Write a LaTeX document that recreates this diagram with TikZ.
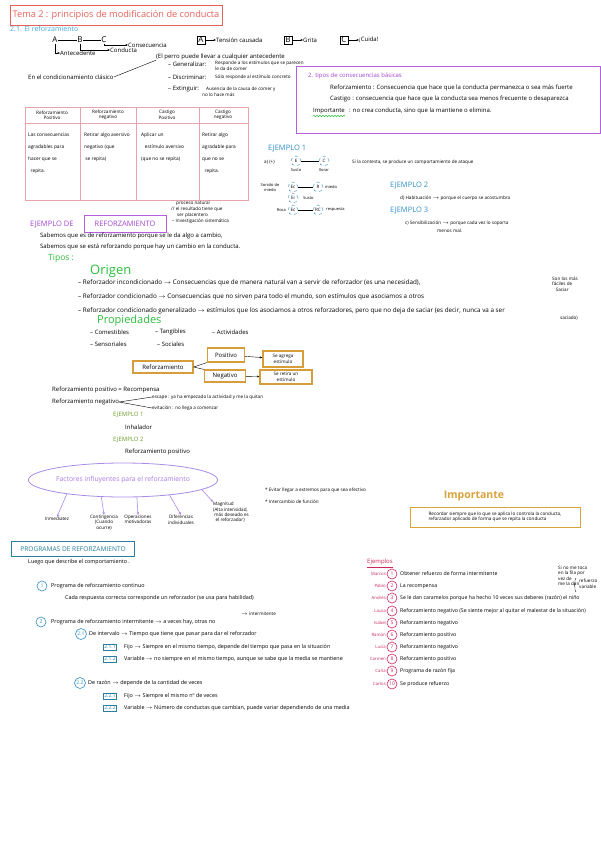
\documentclass[tikz,border=0pt]{standalone}
\usepackage{fontspec}
\setmainfont{Open Sans}
\usetikzlibrary{arrows.meta,shapes.geometric,decorations.pathmorphing,decorations.pathreplacing}
\definecolor{titlered}{HTML}{E8625A}
\definecolor{skyblue}{HTML}{3DA9E0}
\definecolor{violetbox}{HTML}{B35FE0}
\definecolor{violettxt}{HTML}{A346D0}
\definecolor{pinkline}{HTML}{E9A3AA}
\definecolor{exblue}{HTML}{2F8FC7}
\definecolor{brightgreen}{HTML}{2DBE3C}
\definecolor{olive}{HTML}{6E9E2E}
\definecolor{gold}{HTML}{D9A23A}
\definecolor{lavender}{HTML}{A98BE8}
\definecolor{teal}{HTML}{2A7E9E}
\definecolor{crimson}{HTML}{C8285A}
\newcommand\myfs{\fontsize{6}{7}\selectfont}
\newcommand\mysm{\fontsize{4.6}{5.4}\selectfont}
\newcommand\myprog{\fontsize{5.4}{6.4}\selectfont}
\begin{document}
\begin{tikzpicture}[x=1pt,y=-1pt,
  txt/.style={anchor=west,inner sep=0pt,font=\myfs},
  sm/.style={anchor=west,inner sep=0pt,font=\mysm},
  ptxt/.style={anchor=west,inner sep=0pt,font=\myprog},
  otxt/.style={anchor=west,inner sep=0pt,font=\fontsize{6.3}{7.3}\selectfont},
  abc/.style={inner sep=0.5pt,font=\fontsize{8}{9}\selectfont},
  letbox/.style={draw,inner sep=1.2pt,font=\fontsize{8}{9}\selectfont},
  arr/.style={-{Stealth[length=2.5pt,width=2pt]},line width=0.4pt},
  ecirc/.style={circle,draw=exblue,dashed,inner sep=0.5pt,minimum size=10pt,font=\fontsize{4.5}{5}\selectfont},
  exhead/.style={anchor=west,inner sep=0pt,text=exblue,font=\fontsize{7.5}{8.5}\selectfont},
  goldbox/.style={draw=gold!85!brown,line width=1.2pt,inner sep=1pt,font=\myfs,align=center},
  lavarrow/.style={-{Stealth[length=3pt,width=2.5pt]},draw=lavender,line width=0.6pt},
  ncirc/.style={circle,draw=exblue,line width=0.6pt,inner sep=0.4pt,minimum size=10pt,text=exblue,font=\fontsize{5}{6}\selectfont},
  nbox/.style={draw=teal,line width=0.7pt,inner sep=1pt,text=teal,font=\fontsize{5}{6}\selectfont},
  mcirc/.style={circle,draw=crimson,line width=0.6pt,inner sep=0.3pt,minimum size=10pt,text=crimson,font=\fontsize{5}{6}\selectfont}
]
\useasboundingbox[fill=white] (0,0) rectangle (601,848);

% ---------- title ----------
\node[draw=titlered,line width=0.9pt,minimum width=212pt,minimum height=20pt,inner sep=0pt,text=titlered,font=\fontsize{9.2}{11}\selectfont] (title) at (116,15) {Tema 2 : principios de modificación de conducta};
\node[anchor=west,inner sep=0pt,text=skyblue,font=\fontsize{7}{8}\selectfont] (sec21) at (10,29) {2.1. El reforzamiento};

% ---------- A B C ----------
\node[abc] (nA) at (55,40) {A};
\node[abc] (nB) at (80,40) {B};
\node[abc] (nC) at (104,40) {C};
\draw[line width=0.5pt] (nA) -- (nB);
\draw[line width=0.5pt] (nB) -- (nC);
\node[txt] (cons) at (128,45) {Consecuencia};
\node[txt] (cond) at (110,50) {Conducta};
\node[txt] (ante) at (60,53) {Antecedente};
\draw[arr] (nC.south) |- (cons.west);
\draw[arr] (nB.south) |- (cond.west);
\draw[arr] (nA.south) |- (ante.west);

\node[letbox] (bA) at (201,40) {A};
\node[txt] (tA) at (216,40) {Tensión causada};
\draw[arr] (bA) -- (tA);
\node[letbox] (bB) at (288,40) {B};
\node[txt] (tB) at (303,40) {Grita};
\draw[arr] (bB) -- (tB);
\node[letbox] (bC) at (344,40) {C};
\node[txt] (tC) at (359,40) {¡Cuida!};
\draw[arr] (bC) -- (tC);

% ---------- condicionamiento clasico ----------
\node[txt] (clas) at (28,77) {En el condicionamiento clásico};
\node[txt] (perro) at (156,57) {(El perro puede llevar a cualquier antecedente};
\draw[line width=0.4pt] (clas.east) -- (perro.south west);
\node[txt] (gen) at (168,64) {– Generalizar:};
\node[sm] (gen2) at (215,63) {Responde a los estímulos que se parecen};
\node[sm] (gen3) at (215,69) {le da de comer};
\node[txt] (dis) at (168,77) {– Discriminar:};
\node[sm] (dis2) at (215,77) {Sólo responde al estímulo concreto};
\node[txt] (ext) at (168,89) {– Extinguir:};
\node[sm] (ext2) at (206,89) {Ausencia de la causa de comer y};
\node[sm] (ext3) at (202,95) {no lo hace más};

% ---------- tipos de consecuencias (purple box) ----------
\node[draw=violetbox,line width=0.8pt,minimum width=304pt,minimum height=67pt,anchor=north west,inner sep=0pt] (tbox) at (296,66) {};
\node[txt,text=violettxt] (t2) at (308,76) {2. tipos de consecuencias básicas};
\node[txt] (t2a) at (330,88) {Reforzamiento : Consecuencia que hace que la conducta permanezca o sea más fuerte};
\node[txt] (t2b) at (330,99) {Castigo : consecuencia que hace que la conducta sea menos frecuente o desaparezca};
\node[txt] (imp2) at (313,111) {Importante};
\node[txt] (imp2b) at (349,111) {: no crea conducta, sino que la mantiene o elimina.};
\draw[brightgreen,line width=0.5pt,decorate,decoration={snake,amplitude=0.8pt,segment length=3pt}] ([yshift=-2pt]imp2.south west) -- ([yshift=-2pt]imp2.south east);

% ---------- table ----------
\draw[pinkline,line width=0.7pt] (25,107) rectangle (248,200);
\draw[pinkline,line width=0.7pt] (25,123) -- (248,123);
\draw[pinkline,line width=0.7pt] (80,107) -- (80,200);
\draw[pinkline,line width=0.7pt] (136,107) -- (136,200);
\draw[pinkline,line width=0.7pt] (199,107) -- (199,200);
\node[font=\mysm,align=center,inner sep=0pt] (h1) at (52,115) {Reforzamiento\\Positivo};
\node[font=\mysm,align=center,inner sep=0pt] (h2) at (108,115) {Reforzamiento\\negativo};
\node[font=\mysm,align=center,inner sep=0pt] (h3) at (167,115) {Castigo\\Positivo};
\node[font=\mysm,align=center,inner sep=0pt] (h4) at (223,115) {Castigo\\negativo};
\node[sm,anchor=north west,align=left,font=\fontsize{4.8}{12}\selectfont] (b1) at (28,133) {Las consecuencias\\agradables para\\hacer que se\\\ \ repita.};
\node[sm,anchor=north west,align=left,font=\fontsize{4.8}{12}\selectfont] (b2) at (84,133) {Retirar algo aversivo\\negativo (que\\\ se repita)};
\node[sm,anchor=north west,align=left,font=\fontsize{4.8}{12}\selectfont] (b3) at (141,133) {Aplicar un\\\ \ \ estímulo aversivo\\(que no se repita)};
\node[sm,anchor=north west,align=left,font=\fontsize{4.8}{12}\selectfont] (b4) at (202,133) {Retirar algo\\agradable para\\que no se\\\ \ repita.};

% ---------- Ejemplo 1 ----------
\node[exhead] (ej1h) at (268,148) {EJEMPLO 1};
\node[sm] (ej1a) at (264,162) {a) (+)};
\node[ecirc] (e1E) at (296,161) {E};
\node[ecirc] (e1C) at (324,161) {C};
\draw[line width=0.4pt] (e1E) -- (e1C);
\node[font=\fontsize{4}{5}\selectfont,inner sep=0pt] (e1s) at (296,170) {Susto};
\node[font=\fontsize{4}{5}\selectfont,inner sep=0pt] (e1l) at (324,170) {llorar};
\node[sm] (e1t) at (352,162) {Si la contesta, se produce un comportamiento de ataque};

\node[font=\fontsize{4}{5}\selectfont,inner sep=0pt,align=center] (son) at (270,187) {Sonido de\\miedo};
\node[ecirc] (g2E) at (293,187) {Ec};
\node[ecirc] (g2R) at (318,187) {R};
\draw[line width=0.4pt] (g2E) -- (g2R);
\node[font=\fontsize{4}{5}\selectfont,inner sep=0pt,anchor=west] (g2t) at (325,187) {miedo};
\node[ecirc] (g2Ei) at (293,198) {Ei};
\node[font=\fontsize{4}{5}\selectfont,inner sep=0pt,anchor=west] (g2s) at (303,198) {Susto};
\node[font=\fontsize{4}{5}\selectfont,inner sep=0pt,anchor=east] (rosa) at (286,210) {Rosa};
\node[ecirc] (g3E) at (293,210) {Ec};
\node[ecirc] (g3R) at (318,210) {RC};
\draw[line width=0.4pt] (g3E) -- (g3R);
\node[font=\fontsize{4}{5}\selectfont,inner sep=0pt,anchor=west] (g3t) at (326,210) {respuesta};

\node[exhead] (ej2h) at (390,185) {EJEMPLO 2};
\node[sm] (ej2t) at (400,198) {d) Habituación $\rightarrow$ porque el cuerpo se acostumbra};
\node[exhead] (ej3h) at (390,210) {EJEMPLO 3};
\node[sm] (ej3t) at (405,223) {c) Sensibilización $\rightarrow$ porque cada vez lo soporta};
\node[sm] (ej3t2) at (437,231) {menos mal.};

% ---------- ejemplo de reforzamiento ----------
\node[sm] (pn1) at (176,203) {proceso natural};
\node[sm] (pn2) at (171,209) {// el resultado tiene que};
\node[sm] (pn3) at (177,215) {ser placentero};
\node[sm] (pn4) at (172,221) {– Investigación sistemática};
\node[anchor=west,inner sep=0pt,text=violettxt,font=\fontsize{7.5}{8.5}\selectfont] (ejde) at (30,224) {EJEMPLO DE};
\node[draw=violetbox,line width=0.8pt,minimum width=82pt,minimum height=17pt,inner sep=0pt,text=violettxt,font=\fontsize{7.5}{8.5}\selectfont] (refbox) at (125,224) {REFORZAMIENTO};
\node[txt] (sab1) at (40,236) {Sabemos que es de reforzamiento porque se le da algo a cambio,};
\node[txt] (sab2) at (40,247) {Sabemos que se está reforzando porque hay un cambio en la conducta.};
\node[anchor=west,inner sep=0pt,text=brightgreen,font=\fontsize{8.5}{10}\selectfont] (tipos) at (48,258) {Tipos :};
\node[anchor=west,inner sep=0pt,text=brightgreen,font=\fontsize{13}{15}\selectfont] (origen) at (90,271) {Origen};
\node[otxt] (o1) at (78,283) {– Reforzador incondicionado $\rightarrow$ Consecuencias que de manera natural van a servir de reforzador (es una necesidad),};
\node[sm,align=left] (o1n) at (552,284) {Son los más\\fáciles de\\\ \ \ Saciar};
\node[otxt] (o2) at (78,297) {– Reforzador condicionado $\rightarrow$ Consecuencias que no sirven para todo el mundo, son estímulos que asociamos a otros};
\node[otxt] (o3) at (78,311) {– Reforzador condicionado generalizado $\rightarrow$ estímulos que los asociamos a otros reforzadores, pero que no deja de saciar (es decir, nunca va a ser};
\node[sm] (o3b) at (560,318) {saciado)};
\node[anchor=west,inner sep=0pt,text=brightgreen,font=\fontsize{11}{13}\selectfont] (prop) at (97,321) {Propiedades};
\node[txt] (p1) at (90,332) {– Comestibles};
\node[txt] (p2) at (155,332) {– Tangibles};
\node[txt] (p3) at (212,332) {– Actividades};
\node[txt] (p4) at (90,344) {– Sensoriales};
\node[txt] (p5) at (157,344) {– Sociales};

% ---------- reforzamiento boxes ----------
\node[goldbox,minimum width=60pt,minimum height=12pt] (refz) at (163,367) {Reforzamiento};
\node[goldbox,minimum width=37pt,minimum height=14pt] (posv) at (226,355) {Positivo};
\node[goldbox,minimum width=41pt,minimum height=12pt] (negv) at (225,376) {Negativo};
\node[goldbox,minimum width=40pt,minimum height=16pt,font=\mysm] (agrega) at (283,359) {Se agrega\\estímulo};
\node[goldbox,minimum width=52pt,minimum height=14pt,font=\mysm] (retira) at (286,377) {Se retira un\\estímulo};
\draw[line width=0.4pt] (refz.east) -- (posv.south west);
\draw[line width=0.4pt] (refz.east) -- (negv.north west);
\draw[arr] (posv) -- (agrega);
\draw[arr] (negv) -- (retira);

\node[txt] (rpos) at (52,390) {Reforzamiento positivo = Recompensa};
\node[txt] (rneg) at (52,402) {Reforzamiento negativo};
\node[sm] (esc) at (152,397) {escape : ya ha empezado la actividad y me la quitan};
\node[sm] (evi) at (152,408) {evitación : no llega a comenzar};
\draw[line width=0.4pt] (rneg.east) -- (esc.west);
\draw[line width=0.4pt] (rneg.east) -- (evi.west);
\node[anchor=west,inner sep=0pt,text=olive,font=\myfs] (ej1g) at (113,415) {EJEMPLO 1};
\node[txt] (inh) at (125,427) {Inhalador};
\node[anchor=west,inner sep=0pt,text=olive,font=\myfs] (ej2g) at (113,440) {EJEMPLO 2};
\node[txt] (rpos2) at (125,452) {Reforzamiento positivo};

% ---------- factores ----------
\node[ellipse,draw=lavender,line width=0.8pt,minimum width=182pt,minimum height=34pt,inner sep=0pt,text=lavender!80!violettxt,font=\fontsize{6.8}{8}\selectfont] (fact) at (123,480) {Factores influyentes para el reforzamiento};
\node[font=\mysm,inner sep=0pt,anchor=north] (inm) at (57,517) {Inmediatez};
\node[font=\mysm,inner sep=0pt,anchor=north,align=center] (cont) at (104,515) {Contingencia\\(Cuando\\ocurre)};
\node[font=\mysm,inner sep=0pt,anchor=north,align=center] (oper) at (138,515) {Operaciones\\motivadoras};
\node[font=\mysm,inner sep=0pt,anchor=north,align=center] (dif) at (181,515) {Diferencias\\individuales};
\node[font=\mysm,inner sep=0pt,anchor=north west,align=left] (mag) at (213,502) {Magnitud\\(Alta intensidad,\\\ más deseado es\\\ \ el reforzador)};
\draw[lavarrow] (fact.194) -- (inm.north);
\draw[lavarrow] (fact.218) -- (cont.north);
\draw[lavarrow] (fact.309) -- (oper.north);
\draw[lavarrow] (fact.342) -- (dif.north);
\draw[lavarrow] (fact.353) -- (mag.north west);
\node[sm] (n1) at (265,490) {* Evitar llegar a extremos para que sea efectivo};
\node[sm] (n2) at (265,502) {* Intercambio de función};

\node[inner sep=0pt,text=gold,font=\bfseries\fontsize{10.5}{12}\selectfont] (imp) at (474,496) {Importante};
\node[draw=gold,line width=1pt,minimum width=170pt,minimum height=20pt,inner sep=2pt,align=left,font=\mysm] (impbox) at (495,517) {Recordar siempre que lo que se aplica lo controla la conducta,\\reforzador aplicado de forma que se repita la conducta};

% ---------- programas ----------
\node[draw=teal,line width=0.8pt,minimum width=123pt,minimum height=15pt,inner sep=0pt,text=teal,font=\fontsize{6.6}{8}\selectfont] (prog) at (73,549) {PROGRAMAS DE REFORZAMIENTO};
\node[ptxt] (luego) at (28,562) {Luego que describe el comportamiento .};
\node[ncirc] (c1) at (42,586) {1};
\node[ptxt] (c1t) at (51,586) {Programa de reforzamiento continuo};
\node[ptxt] (c1b) at (65,598) {Cada respuesta correcta corresponde un reforzador (se usa para habilidad)};
\node[sm] (interm) at (241,614) {$\rightarrow$ intermitente};
\node[ncirc] (c2) at (41,622) {2};
\node[ptxt] (c2t) at (51,622) {Programa de reforzamiento intermitente $\rightarrow$ a veces hay, otras no};
\node[ncirc,minimum size=11pt] (c21) at (81,634) {2.1};
\node[ptxt] (c21t) at (89,634) {De intervalo $\rightarrow$ Tiempo que tiene que pasar para dar el reforzador};
\node[nbox] (b211) at (110,647) {2.1.1};
\node[ptxt] (b211t) at (124,647) {Fijo $\rightarrow$ Siempre en el mismo tiempo, depende del tiempo que pasa en la situación};
\node[nbox] (b212) at (110,659) {2.1.2};
\node[ptxt] (b212t) at (124,659) {Variable $\rightarrow$ no siempre en el mismo tiempo, aunque se sabe que la media se mantiene};
\node[ncirc,minimum size=11pt] (c22) at (80,683) {2.2};
\node[ptxt] (c22t) at (88,683) {De razón $\rightarrow$ depende de la cantidad de veces};
\node[nbox] (b221) at (110,696) {2.2.1};
\node[ptxt] (b221t) at (124,696) {Fijo $\rightarrow$ Siempre el mismo nº de veces};
\node[nbox] (b222) at (110,708) {2.2.2};
\node[ptxt] (b222t) at (124,708) {Variable $\rightarrow$ Número de conductas que cambian, puede variar dependiendo de una media};

% ---------- ejemplos ----------
\node[anchor=west,inner sep=0pt,text=crimson,font=\myfs] (ejs) at (367,562) {Ejemplos};
\draw[crimson,line width=0.4pt] (ejs.south west) ++(0,1.5) -- ++(26,0);
\foreach \n/\yy/\lab/\txt in {
  1/574/Marcos/{Obtener refuerzo de forma intermitente},
  2/586/Pablo/{La recompensa},
  3/598/Andrés/{Se le dan caramelos porque ha hecho 10 veces sus deberes (razón) el niño},
  4/611/Laura/{Reforzamiento negativo (Se siente mejor al quitar el malestar de la situación)},
  5/623/Isabel/{Reforzamiento negativo},
  6/635/Ramón/{Reforzamiento positivo},
  7/647/Lucía/{Reforzamiento negativo},
  8/659/Carmen/{Reforzamiento positivo},
  9/671/Carla/{Programa de razón fija},
  10/684/Carlos/{Se produce refuerzo}}{
  \node[mcirc] (m\n) at (392,\yy) {\n};
  \node[anchor=east,inner sep=0pt,text=crimson,font=\fontsize{4.3}{5}\selectfont] (ml\n) at (386,\yy) {\lab};
  \node[sm,font=\fontsize{5.2}{6}\selectfont] (mt\n) at (400,\yy) {\txt};
}
\node[sm,align=left,anchor=north west] (note) at (558,566) {Si no me toca\\en la fila por\\vez de\\me la dan};
\draw[line width=0.4pt,decorate,decoration={brace,amplitude=2pt}] (576,592) -- (576,578);
\node[sm,align=left,anchor=north west] (note2) at (579,579) {refuerzo\\variable};
\end{tikzpicture}
\end{document}
